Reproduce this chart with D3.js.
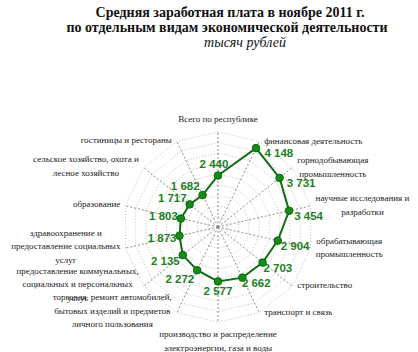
<!DOCTYPE html>
<html><head><meta charset="utf-8">
<script src="https://cdn.jsdelivr.net/npm/d3@7"></script>
<style>body{margin:0;background:#fff}svg{display:block}</style>
</head><body><svg id="c" width="418" height="352"></svg>
<script>
const categories = [
  "Всего по республике",
  "финансовая деятельность",
  "горнодобывающая|промышленность",
  "научные исследования и|разработки",
  "обрабатывающая|промышленность",
  "строительство",
  "транспорт и связь",
  "производство и распределение|электроэнергии, газа и воды",
  "торговля, ремонт автомобилей,|бытовых изделий и предметов|личного пользования",
  "предоставление коммунальных,|социальных и персональных|услуг",
  "здравоохранение и|предоставление социальных|услуг",
  "образование",
  "сельское хозяйство, охота и|лесное хозяйство",
  "гостиницы и рестораны"
];
const values = [2440, 4148, 3731, 3454, 2904, 2703, 2662, 2577, 2272, 2135, 1873, 1803, 1717, 1682];
const titleLines = ["Средняя заработная плата в ноябре 2011 г.", "по отдельным видам экономической деятельности"];
const unitLabel = "тысяч  рублей";
const axisMax = 4500, axisStep = 500;

const svg = d3.select("#c");
const cx = 218, cy = 227, R = 95;
const r = d3.scaleLinear().domain([0, axisMax]).range([0, R]);
const n = categories.length;
const ang = d3.scaleLinear().domain([0, n]).range([0, 2 * Math.PI]);
const pt = (i, v) => [cx + r(v) * Math.sin(ang(i)), cy - r(v) * Math.cos(ang(i))];

// title
const serif = "'Liberation Serif','Times New Roman',serif";
svg.append("text").attr("x", 230).attr("y", 17).attr("text-anchor", "middle")
  .attr("font-family", serif).attr("font-weight", "bold").attr("font-size", 14).attr("fill", "#111").text(titleLines[0]);
svg.append("text").attr("x", 227).attr("y", 32).attr("text-anchor", "middle")
  .attr("font-family", serif).attr("font-weight", "bold").attr("font-size", 14).attr("fill", "#111").text(titleLines[1]);
svg.append("text").attr("x", 245).attr("y", 47).attr("text-anchor", "middle")
  .attr("font-family", serif).attr("font-style", "italic").attr("font-size", 14).attr("fill", "#111").text(unitLabel);

// grid rings
const ticks = d3.range(axisStep, axisMax + 1, axisStep);
const ringLine = d3.line();
ticks.forEach(t => {
  const pts = d3.range(n).map(i => pt(i, t));
  pts.push(pts[0]);
  svg.append("path").attr("d", ringLine(pts)).attr("fill", "none")
    .attr("stroke", "#c0c0c0").attr("stroke-width", 1).attr("stroke-dasharray", "1,2");
});
// spokes
d3.range(n).forEach(i => {
  const [x, y] = pt(i, axisMax);
  svg.append("line").attr("x1", cx).attr("y1", cy).attr("x2", x).attr("y2", y)
    .attr("stroke", "#8c8c8c").attr("stroke-width", 1).attr("stroke-dasharray", "2,2");
});

// category labels
const lh = 13.5;
categories.forEach((c, i) => {
  const lines = c.split("|");
  const a = ang(i);
  const s = Math.sin(a), co = Math.cos(a);
  const [ex, ey] = pt(i, axisMax);
  const g = svg.append("g");
  lines.forEach((l, k) => {
    g.append("text").attr("x", 0).attr("y", k * lh).attr("text-anchor", "middle")
      .attr("dy", "0.35em").attr("font-family", serif).attr("font-size", 9).attr("fill", "#222").text(l);
  });
  const w = d3.max(g.selectAll("text").nodes(), nd => nd.getComputedTextLength());
  const hgt = (lines.length - 1) * lh;
  let tx, ty;
  if (Math.abs(s) < 0.1) {
    tx = ex;
    ty = co > 0 ? ey - 13 - hgt : ey + 12;
  } else if (s > 0) {
    tx = ex + 5 + w / 2;
    ty = ey - hgt / 2 - 1;
  } else {
    tx = ex - 5 - w / 2;
    ty = ey - hgt / 2 - 2;
  }
  g.attr("transform", `translate(${tx},${ty})`);
});

// series line
const data = values.map((v, i) => pt(i, v));
svg.append("path").attr("d", d3.line()([...data, data[0]])).attr("fill", "none")
  .attr("stroke", "#0f6e0f").attr("stroke-width", 2);
svg.selectAll("circle.m").data(data).enter().append("circle").attr("class", "m")
  .attr("cx", d => d[0]).attr("cy", d => d[1]).attr("r", 3.8)
  .attr("fill", "#168a16").attr("stroke", "#0b6b0b").attr("stroke-width", 1);

// value labels
const fmt = v => d3.format(",")(v).replace(/,/g, " ");
values.forEach((v, i) => {
  const [px, py] = pt(i, v);
  const a = ang(i), s = Math.sin(a), co = Math.cos(a);
  let x, y, anchor;
  if (Math.abs(s) < 0.1) {
    anchor = "middle"; x = px - (co > 0 ? 4 : 0); y = co > 0 ? py - 12 : py + 10;
  } else if (s > 0) {
    anchor = "start"; x = px + 4 + 5 * co; y = py + 5;
  } else {
    anchor = "end"; x = px - 3; y = py - 10 * co;
  }
  svg.append("text").attr("x", x).attr("y", y).attr("dy", "0.35em").attr("text-anchor", anchor)
    .attr("font-family", "'Liberation Sans',Arial,sans-serif").attr("font-weight", "bold")
    .attr("font-size", 11.5).attr("fill", "#1f7f1f").text(fmt(v));
});
</script></body></html>
